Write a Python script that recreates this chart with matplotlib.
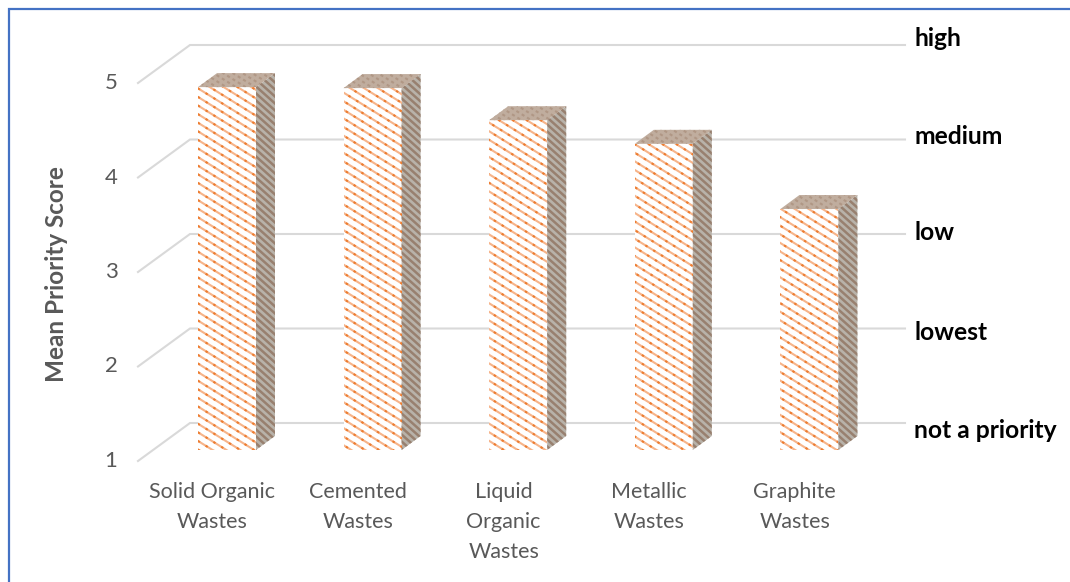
import numpy as np
import matplotlib
matplotlib.use("Agg")
import matplotlib.pyplot as plt
from matplotlib.lines import Line2D

categories = ["Solid Organic\nWastes", "Cemented\nWastes", "Liquid\nOrganic\nWastes", "Metallic\nWastes", "Graphite\nWastes"]
scores = [4.84, 4.83, 4.49, 4.24, 3.55]
y_ticks = [1, 2, 3, 4, 5]
priority_labels = ["not a priority", "lowest", "low", "medium", "high"]
priority_px = [430, 332, 233, 136, 38]

W, H = 1070, 582
X0, DX = 227.0, 145.6    # pixel pos of first bar centre, spacing
Y0, DY = 450.0, 94.5     # pixel pos of value 1 on the bar plane, unit height

def ppx(px):
    return (px - X0) / DX

def ppy(py):
    return 1 + (Y0 - py) / DY

plt.rcParams["font.family"] = ["Lato", "DejaVu Sans"]

fig = plt.figure(figsize=(W / 100, H / 100), dpi=100)
ax = fig.add_axes([0, 0, 1, 1])
ax.set_xlim(ppx(0), ppx(W))
ax.set_ylim(ppy(H), ppy(0))
ax.axis("off")

grid_col = "#d9d9d9"
text_col = "#595959"
orange = "#ed7d31"
pale = "#f6b48a"

bar_w = 58 / DX
dep_x = 19 / DX
dep_y = 14 / DY
front_x = ppx(138)
back_x = ppx(190)
end_x = ppx(905)
floor_dy = 11 / DY
back_dy = 27 / DY


def stripes(patch, spacing, slope, color, lw, dashes=None, z=4):
    # diagonal fill lines clipped to a face, the pattern of the original is not a 45 deg hatch
    x_a, x_b = ppx(190), ppx(860)
    run = (x_b - x_a) * DX * slope
    for c in np.arange(0, H + run, spacing):
        ln, = ax.plot([x_a, x_b], [ppy(c - run), ppy(c)], color=color, lw=lw, zorder=z)
        if dashes:
            ln.set_dashes(dashes)
        ln.set_clip_path(patch)


# gridlines with the slanted wall part
for v in y_ticks:
    ax.plot([front_x, back_x, end_x], [v - floor_dy, v + back_dy, v + back_dy],
            color=grid_col, lw=1.5, zorder=1, solid_joinstyle="miter")

# bars: front face, side face, top face
for i, s in enumerate(scores):
    l = i - bar_w / 2
    r = i + bar_w / 2
    front = ax.bar(i, s - 1, bar_w, bottom=1, facecolor="white", linewidth=0, zorder=3)[0]
    stripes(front, 8.6, 0.62, pale, 1.5)
    stripes(front, 8.6, 0.62, orange, 1.5, dashes=(1.2, 3.2), z=5)
    side = ax.fill([r, r + dep_x, r + dep_x, r], [1, 1 + dep_y, s + dep_y, s],
                   facecolor="#b8b2a9", linewidth=0, zorder=3)[0]
    stripes(side, 7.0, 0.9, "#98806f", 1.8)
    top = ax.fill([l, l + dep_x, r + dep_x, r], [s, s + dep_y, s + dep_y, s],
                  facecolor="#c0ad9e", linewidth=0, zorder=3)[0]
    stripes(top, 6.0, 0.62, "#b09785", 1.5, dashes=(1.5, 1.5))
    ax.text(i - 0.1, ppy(482), categories[i], ha="center", va="top",
            fontsize=15.5, color=text_col, linespacing=1.64)

# value ticks on the front edge
for v in y_ticks:
    ax.text(ppx(111), v - floor_dy, str(v), ha="center", va="center", fontsize=16, color=text_col)

ax.text(ppx(57), ppy(274), "Mean Priority Score", rotation=90, ha="center", va="center",
        fontsize=17.5, fontweight="bold", color=text_col)

# priority labels on the right
for py, lab in zip(priority_px, priority_labels):
    ax.text(ppx(914), ppy(py), lab, ha="left", va="center", fontsize=17.7,
            fontweight="bold", color="black", zorder=6)

# blue frame of the picture, top and left only
fig.add_artist(Line2D([8.5 / W, 8.5 / W, 1], [0, 1 - 8.5 / H, 1 - 8.5 / H], transform=fig.transFigure,
                      color="#4472c4", lw=1.6, solid_joinstyle="miter"))

fig.savefig("out.png", dpi=100)
